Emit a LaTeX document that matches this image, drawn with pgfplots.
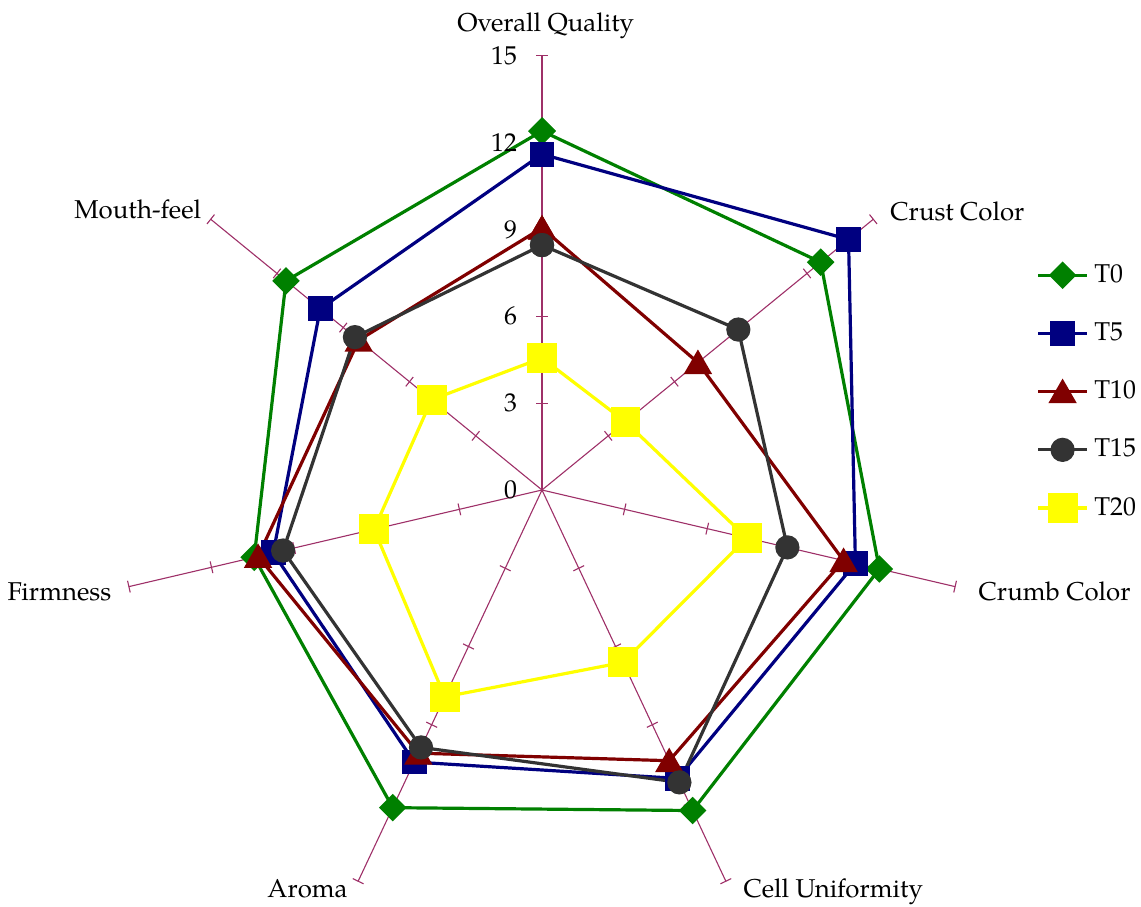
\documentclass[border=0pt]{standalone}
\usepackage{fontspec}
\setmainfont{TeX Gyre Pagella}
\usepackage{pgfplots}
\pgfplotsset{compat=1.18}

\definecolor{spokecol}{RGB}{158,48,104}
\definecolor{cTzero}{RGB}{0,128,0}
\definecolor{cTfive}{RGB}{0,0,128}
\definecolor{cTten}{RGB}{128,0,0}
\definecolor{cTfifteen}{RGB}{51,51,51}
\definecolor{cTtwenty}{RGB}{255,255,0}

\pgfplotsset{
  spoke/.style={spokecol, line width=0.55pt, forget plot, data cs=polar},
  series/.style={line width=1.6pt, data cs=polar, mark options={solid}},
}

\begin{document}
\begin{tikzpicture}[font=\fontsize{12.9pt}{15pt}\selectfont]
\begin{axis}[
  x=14.125pt, y=14.475pt,
  xmin=-19.186, xmax=21.204, ymin=-14.370, ymax=16.926,
  hide axis, clip=false,
  legend style={draw=none, fill=none, at={(axis cs:17.49,7.95)}, anchor=north west,
    inner sep=0pt, row sep=14.1pt, column sep=2.85pt,
    nodes={inner sep=0pt, text height=11pt, text depth=4pt}},
  legend cell align=left,
  legend image code/.code={\draw[mark repeat=2,mark phase=2] plot coordinates {(0pt,0pt)(12.25pt,0pt)(24.5pt,0pt)};},
]
% radial axes (one per attribute) with ticks every 3 points
\pgfplotsinvokeforeach{90,38.5714,-12.8571,-64.2857,-115.7143,-167.1429,-218.5714}{
  \addplot[spoke] coordinates {(0,0) (#1,15)};
  \addplot[spoke, only marks, mark=|, mark size=3pt, mark options={rotate=#1}]
    coordinates {(#1,3) (#1,6) (#1,9) (#1,12) (#1,15)};
}

% order: Overall Quality, Crust Color, Crumb Color, Cell Uniformity, Aroma, Firmness, Mouth-feel
\addplot[series, cTzero, mark=square*, mark size=4.07pt, mark options={rotate=45}]
  coordinates {(90,12.40) (38.5714,12.62) (-12.8571,12.25) (-64.2857,12.29)
               (-115.7143,12.18) (-167.1429,10.45) (-218.5714,11.59) (-270,12.40)};
\addlegendentry{T0}
\addplot[series, cTfive, mark=square*, mark size=5.4pt]
  coordinates {(90,11.60) (38.5714,13.88) (-12.8571,11.38) (-64.2857,11.06)
               (-115.7143,10.43) (-167.1429,9.76) (-218.5714,10.04) (-270,11.60)};
\addlegendentry{T5}
\addplot[series, cTten, mark=triangle*, mark size=6.6pt, mark options={yshift=-1.65pt}]
  coordinates {(90,9.05) (38.5714,7.06) (-12.8571,10.95) (-64.2857,10.38)
               (-115.7143,10.09) (-167.1429,10.31) (-218.5714,8.30) (-270,9.05)};
\addlegendentry{T10}
\addplot[series, cTfifteen, mark=*, mark size=5.25pt]
  coordinates {(90,8.46) (38.5714,8.89) (-12.8571,8.91) (-64.2857,11.21)
               (-115.7143,9.87) (-167.1429,9.40) (-218.5714,8.47) (-270,8.46)};
\addlegendentry{T15}
\addplot[series, cTtwenty, mark=square*, mark size=6.67pt]
  coordinates {(90,4.56) (38.5714,3.78) (-12.8571,7.44) (-64.2857,6.61)
               (-115.7143,7.93) (-167.1429,6.10) (-218.5714,5.00) (-270,4.56)};
\addlegendentry{T20}

% scale numbers along the Overall Quality axis
\node[anchor=east, inner sep=0pt] at (axis cs:-0.87,0) {0};
\node[anchor=east, inner sep=0pt] at (axis cs:-0.87,3) {3};
\node[anchor=east, inner sep=0pt] at (axis cs:-0.87,6) {6};
\node[anchor=east, inner sep=0pt] at (axis cs:-0.87,9) {9};
\node[anchor=east, inner sep=0pt] at (axis cs:-0.87,12) {12};
\node[anchor=east, inner sep=0pt] at (axis cs:-0.87,15) {15};

% attribute names
\node[anchor=base, inner sep=0pt] at (axis cs:0.13,15.85) {Overall Quality};
\node[anchor=base west, inner sep=0pt] at (axis cs:12.32,9.31) {Crust Color};
\node[anchor=base west, inner sep=0pt] at (axis cs:15.44,-3.80) {Crumb Color};
\node[anchor=base west, inner sep=0pt] at (axis cs:7.12,-14.06) {Cell Uniformity};
\node[anchor=base east, inner sep=0pt] at (axis cs:-6.87,-14.06) {Aroma};
\node[anchor=base east, inner sep=0pt] at (axis cs:-15.23,-3.80) {Firmness};
\node[anchor=base east, inner sep=0pt] at (axis cs:-12.05,9.39) {Mouth-feel};

\coordinate (bl) at (axis cs:-19.186,-14.370);
\coordinate (tr) at (axis cs:21.204,16.926);
\end{axis}
\pgfresetboundingbox
\useasboundingbox (bl) rectangle (tr);
\end{tikzpicture}
\end{document}
